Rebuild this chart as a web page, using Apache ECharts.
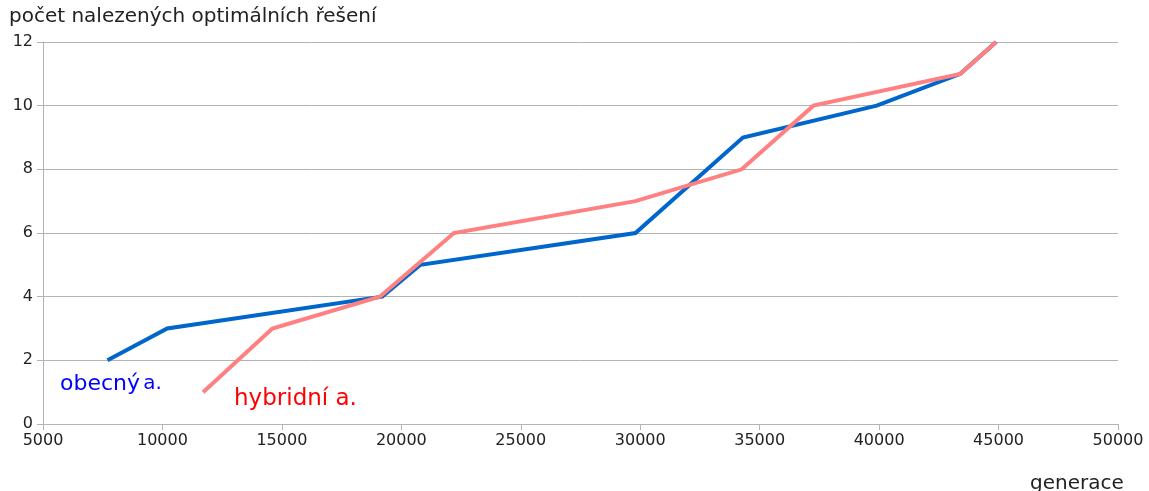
<!DOCTYPE html>
<html>
<head>
<meta charset="utf-8">
<script src="https://cdn.jsdelivr.net/npm/echarts@6/dist/echarts.min.js"></script>
<style>
  html, body { margin: 0; padding: 0; background: #fff; }
  #chart { width: 1149px; height: 491px; }
</style>
</head>
<body>
<div id="chart"></div>
<script>
'use strict'
// generace (x) vs. počet nalezených optimálních řešení (y)
var obecnyX = [7700, 10200, 19200, 20800, 29800, 34300, 39900, 43400, 44900]
var obecnyY = [2, 3, 4, 5, 6, 9, 10, 11, 12]
var hybridX = [11700, 14600, 19100, 22200, 29800, 34250, 37250, 43400, 44900]
var hybridY = [1, 3, 4, 6, 7, 8, 10, 11, 12]

function pairs (xs, ys) {
  return xs.map(function (x, i) { return [x, ys[i]] })
}

var chart = echarts.init(document.getElementById('chart'))
var gray = '#b3b3b3'
var font = 'DejaVu Sans'

chart.setOption({
  animation: false,
  grid: { left: 43, right: 31, top: 42, bottom: 67 },
  xAxis: {
    type: 'value',
    min: 5000,
    max: 50000,
    interval: 5000,
    axisLine: { show: true, lineStyle: { color: gray } },
    axisTick: { show: true, length: 6, lineStyle: { color: gray } },
    splitLine: { show: false },
    axisLabel: {
      color: '#222', fontFamily: font, fontSize: 16, margin: 9,
      formatter: function (v) { return String(v) }
    }
  },
  yAxis: {
    type: 'value',
    min: 0,
    max: 12,
    interval: 2,
    axisLine: { show: true, lineStyle: { color: gray } },
    axisTick: { show: true, length: 6, lineStyle: { color: gray } },
    splitLine: { lineStyle: { color: gray, width: 1 } },
    axisLabel: { color: '#222', fontFamily: font, fontSize: 16, margin: 10 }
  },
  series: [
    {
      name: 'obecný a.',
      type: 'line',
      data: pairs(obecnyX, obecnyY),
      showSymbol: false,
      lineStyle: { color: '#0066cc', width: 4, join: 'miter' }
    },
    {
      name: 'hybridní a.',
      type: 'line',
      data: pairs(hybridX, hybridY),
      showSymbol: false,
      lineStyle: { color: '#ff8080', width: 4, join: 'miter' }
    }
  ],
  graphic: [
    {
      type: 'text', left: 9, top: 7,
      style: { text: 'počet nalezených optimálních řešení', fill: '#222', font: '20px "DejaVu Sans"' }
    },
    {
      type: 'text', left: 1030, top: 474,
      style: { text: 'generace', fill: '#222', font: '20px "DejaVu Sans"' }
    },
    {
      type: 'text', left: 60, top: 373,
      style: {
        text: '{a|obecný} {b|a.}',
        rich: {
          a: { fill: '#0000ff', fontFamily: font, fontSize: 22 },
          b: { fill: '#0000ff', fontFamily: font, fontSize: 20 }
        }
      }
    },
    {
      type: 'text', left: 234, top: 388,
      style: { text: 'hybridní a.', fill: '#ff0000', font: '23px "DejaVu Sans"' }
    }
  ]
})
</script>
</body>
</html>
